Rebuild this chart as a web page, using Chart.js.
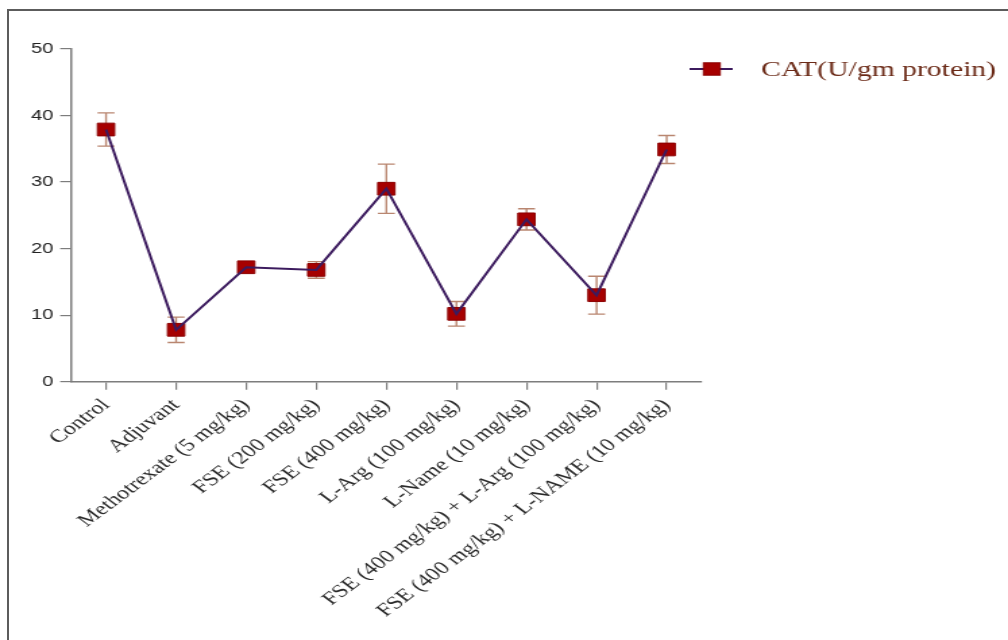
<!DOCTYPE html>
<html>
<head>
<meta charset="utf-8">
<title>CAT activity by treatment group</title>
<script src="https://cdn.jsdelivr.net/npm/chart.js@4"></script>
<style>
  html, body { margin: 0; padding: 0; background: #ffffff; overflow: hidden; }
  body { width: 1008px; height: 640px; position: relative; }
  #frame {
    position: absolute; left: 7px; top: 9px; width: 1100px; height: 700px;
    border-left: 2px solid #5c5c5c; border-top: 2px solid #5c5c5c;
  }
  /* the figure is laid out narrow and widened horizontally */
  #wrap {
    position: absolute; left: 0; top: 0; width: 747px; height: 640px;
    transform: scaleX(1.3494); transform-origin: 0 0;
  }
</style>
</head>
<body>
<div id="frame"></div>
<div id="wrap"><canvas id="chart" width="747" height="640"></canvas></div>
<script>
// Treatment groups on the x axis
const categories = [
  'Control',
  'Adjuvant',
  'Methotrexate (5 mg/kg)',
  'FSE (200 mg/kg)',
  'FSE (400 mg/kg)',
  'L-Arg (100 mg/kg)',
  'L-Name (10 mg/kg)',
  'FSE (400 mg/kg) + L-Arg (100 mg/kg)',
  'FSE (400 mg/kg) + L-NAME (10 mg/kg)'
];

// Mean CAT activity (U/gm protein) and its error
const catMeans  = [37.9, 7.8, 17.2, 16.8, 29.0, 10.2, 24.4, 13.0, 34.9];
const catErrors = [2.5, 1.9, 0.5, 1.25, 3.7, 1.85, 1.6, 2.85, 2.1];

// Y axis range and tick step
const yMin = 0;
const yMax = 50;
const yStep = 10;

const seriesLabel = 'CAT(U/gm protein)';

const markerColor = '#a60000';
const markerEdge = '#8c0000';
const lineColor = '#3c1b5e';
const errorColor = '#b98670';
const axisColor = '#7d7d7d';
const serif = '"Liberation Serif", "Times New Roman", Times, serif';
const sans = '"Liberation Sans", Arial, Helvetica, sans-serif';

// Error bars, drawn under the markers
const errorBars = {
  id: 'errorBars',
  beforeDatasetsDraw(chart) {
    const { ctx, scales: { x, y } } = chart;
    const cap = 6.3;
    ctx.save();
    ctx.strokeStyle = errorColor;
    ctx.lineWidth = 1.4;
    catMeans.forEach((m, i) => {
      const px = x.getPixelForValue(i);
      const top = y.getPixelForValue(m + catErrors[i]);
      const bot = y.getPixelForValue(m - catErrors[i]);
      ctx.beginPath();
      ctx.moveTo(px, top); ctx.lineTo(px, bot);
      ctx.moveTo(px - cap, top); ctx.lineTo(px + cap, top);
      ctx.moveTo(px - cap, bot); ctx.lineTo(px + cap, bot);
      ctx.stroke();
    });
    ctx.restore();
  }
};

// Series key to the right of the plot
const seriesKey = {
  id: 'seriesKey',
  afterDraw(chart) {
    const { ctx, chartArea } = chart;
    const cy = chartArea.top + 20;
    const x0 = chartArea.right - 9;
    ctx.save();
    ctx.strokeStyle = lineColor;
    ctx.lineWidth = 2;
    ctx.beginPath();
    ctx.moveTo(x0, cy); ctx.lineTo(x0 + 32, cy);
    ctx.stroke();
    const s = 12.4;
    const cx = x0 + 16.5;
    ctx.fillStyle = markerColor;
    ctx.fillRect(cx - s / 2, cy - s / 2, s, s);
    ctx.strokeStyle = markerEdge;
    ctx.lineWidth = 1;
    ctx.strokeRect(cx - s / 2, cy - s / 2, s, s);
    ctx.fillStyle = '#6b2a17';
    ctx.font = '22px ' + serif;
    ctx.textBaseline = 'middle';
    ctx.textAlign = 'left';
    ctx.fillText(seriesLabel, chartArea.right + 44, cy + 1);
    ctx.restore();
  }
};

new Chart(document.getElementById('chart'), {
  type: 'line',
  data: {
    labels: categories,
    datasets: [
      {
        // connecting line, on top of the markers
        label: seriesLabel,
        data: catMeans,
        borderColor: lineColor,
        borderWidth: 2,
        pointRadius: 0,
        tension: 0,
        fill: false,
        order: 1
      },
      {
        // square markers
        label: seriesLabel,
        data: catMeans,
        showLine: false,
        pointStyle: 'rect',
        pointRadius: 9,
        pointBackgroundColor: markerColor,
        pointBorderColor: markerEdge,
        pointBorderWidth: 1,
        order: 2
      }
    ]
  },
  options: {
    responsive: false,
    animation: false,
    events: [],
    layout: { padding: { top: 49, right: 227, bottom: 0, left: 0 } },
    plugins: {
      legend: { display: false },
      tooltip: { enabled: false }
    },
    scales: {
      x: {
        type: 'category',
        offset: true,
        grid: {
          display: true, drawOnChartArea: false, drawTicks: true,
          offset: false, tickLength: 8, color: axisColor, lineWidth: 1.2
        },
        border: { display: true, color: axisColor, width: 1.5 },
        ticks: {
          autoSkip: false, minRotation: 45, maxRotation: 45, padding: 5,
          color: '#2a2a2a', font: { family: serif, size: 18 }
        },
        afterFit(scale) { scale.height = 640 - 381.7; }
      },
      y: {
        min: yMin, max: yMax,
        grid: {
          display: true, drawOnChartArea: false, drawTicks: true,
          tickLength: 8, color: axisColor, lineWidth: 1.2
        },
        border: { display: true, color: axisColor, width: 1.5 },
        ticks: {
          stepSize: yStep, padding: 5, color: '#222222',
          font: { family: sans, size: 15 }
        },
        afterFit(scale) { scale.width = 52.6; }
      }
    }
  },
  plugins: [errorBars, seriesKey]
});
</script>
</body>
</html>
